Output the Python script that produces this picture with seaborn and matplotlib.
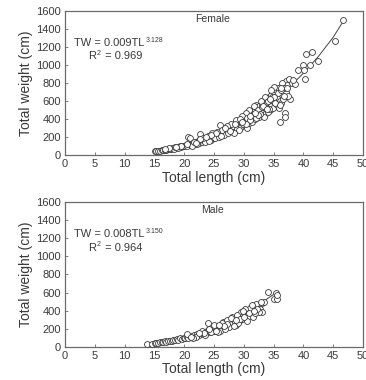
import numpy as np
import pandas as pd
import matplotlib
matplotlib.use("Agg")
import matplotlib.pyplot as plt
import seaborn as sns

# Female: total length (cm) and total weight
female_tl = [15.0, 15.3, 15.6, 15.9, 16.2, 16.5, 16.8, 17.0, 17.3, 17.6, 17.8, 18.0, 18.3, 18.5, 18.8,
             19.0, 19.2, 19.5, 19.7, 20.0, 20.2, 20.4, 20.7, 21.0, 20.9, 21.2, 21.5, 21.8, 22.0, 22.3,
             22.5, 22.6, 22.8, 23.0, 23.2, 23.5, 23.7, 24.0, 24.2, 24.4, 24.6, 24.8, 25.0, 25.2, 25.4,
             25.6, 25.8, 26.0, 26.0, 26.2, 26.4, 26.6, 26.8, 27.0, 27.2, 27.4, 27.6, 27.8, 28.0, 28.2,
             28.4, 28.6, 28.8, 29.0, 29.2, 29.4, 29.6, 29.8, 30.0, 30.2, 30.4, 30.6, 30.8, 31.0, 31.2,
             31.4, 31.6, 31.8, 32.0, 32.0, 32.2, 32.4, 32.6, 32.8, 33.0, 33.2, 33.4, 33.6, 33.8, 34.0,
             34.2, 34.4, 34.6, 34.8, 35.0, 35.2, 35.4, 35.6, 35.8, 36.0, 36.1, 36.3, 36.5, 36.9, 36.9,
             37.0, 37.0, 37.3, 37.6, 37.7, 38.0, 38.6, 39.0, 40.0, 40.1, 40.2, 40.5, 41.1, 41.5, 42.5,
             45.3, 46.7,
             21.3, 22.1, 23.4, 24.1, 25.1, 25.9, 26.7, 27.3, 28.1, 28.9, 29.5, 30.1, 30.7, 31.3, 31.9,
             32.5, 33.1, 33.7, 34.3, 34.9, 35.5, 36.2, 33.5, 32.9, 31.7, 30.9, 30.3, 29.7, 28.7, 27.9,
             27.1, 26.3, 25.5, 24.7, 23.9, 23.1, 22.4, 21.6, 20.5, 19.4, 18.6, 17.5, 16.7, 35.1, 34.5,
             36.4, 36.8, 37.4, 35.9, 36.6, 34.1, 33.3, 30.5, 29.1, 28.3,
             29.3, 29.9, 30.6, 31.1, 31.5, 32.1, 32.3, 32.7, 33.0, 33.6, 33.9, 34.2, 34.7, 35.3, 35.7,
             36.0, 36.3, 36.7, 34.0, 33.2, 32.4, 31.8, 31.0, 30.4, 29.6, 28.5, 27.7, 26.9, 26.1, 25.3,
             24.5, 23.6, 22.7, 21.9, 35.0, 34.4, 33.8, 36.2, 37.2, 38.3]
female_tw = [40, 44, 48, 47, 52, 56, 60, 58, 66, 70, 64, 78, 72, 84, 88,
             80, 95, 92, 100, 96, 110, 104, 203, 185, 120, 115, 130, 125, 140, 150,
             135, 233, 160, 150, 170, 160, 185, 175, 195, 170, 210, 190, 220, 200, 230,
             210, 245, 333, 225, 255, 235, 270, 250, 285, 260, 300, 275, 310, 290, 330,
             300, 345, 320, 360, 330, 380, 345, 400, 365, 420, 380, 440, 395, 460, 410,
             480, 430, 500, 555, 440, 520, 470, 540, 480, 560, 500, 590, 520, 610, 540,
             640, 560, 670, 600, 700, 620, 720, 650, 740, 600, 367, 680, 760, 463, 426,
             826, 700, 780, 848, 626, 800, 792, 941, 997, 944, 844, 1122, 997, 1141, 1040,
             1270, 1500,
             100, 120, 140, 155, 185, 200, 220, 240, 260, 290, 310, 330, 350, 370, 400,
             420, 450, 470, 500, 520, 560, 580, 640, 600, 540, 500, 470, 430, 390, 350,
             320, 280, 260, 240, 215, 190, 170, 145, 125, 105, 92, 75, 65, 760, 720,
             800, 740, 660, 520, 620, 480, 420, 300, 280, 250,
             395, 345, 410, 385, 445, 410, 500, 455, 530, 560, 590, 510, 640, 580, 690,
             560, 720, 660, 600, 540, 450, 470, 430, 350, 370, 340, 270, 300, 215, 245,
             225, 200, 180, 130, 650, 620, 510, 740, 740, 830]

# Female fitted curve (TW = 0.009TL^3.128)
female_curve_tl = [15, 17.5, 20, 22.5, 25, 27.5, 30, 32.5, 35, 37.5, 40, 42.5, 45, 46.8]
female_curve_tw = [43, 64, 101, 150, 210, 285, 372, 478, 600, 745, 910, 1095, 1310, 1500]

# Male
male_tl = [13.8, 14.5, 15.0, 15.3, 15.6, 15.9, 16.2, 16.5, 16.8, 17.0, 17.3, 17.6, 17.9, 18.1, 18.4,
           18.7, 19.0, 19.3, 19.6, 19.9, 20.1, 20.4, 20.7, 21.0, 21.3, 21.6, 21.9, 22.2, 22.5, 22.8,
           23.1, 23.4, 23.7, 24.0, 24.0, 24.3, 24.6, 24.9, 25.2, 25.5, 25.8, 26.1, 26.4, 26.7, 27.0,
           27.3, 27.6, 27.9, 28.2, 28.6, 28.5, 28.8, 29.1, 29.4, 29.7, 30.0, 30.3, 30.6, 30.9, 31.2,
           31.5, 31.8, 32.1, 32.4, 32.7, 33.0, 33.0, 33.3, 34.0, 35.1, 35.4, 35.5, 35.6,
           22.0, 23.0, 24.5, 25.0, 26.0, 26.5, 27.5, 28.0, 29.0, 29.5, 30.5, 31.0, 31.5, 32.0, 32.5,
           26.9, 25.6, 23.5, 21.5, 20.5, 30.2, 28.3, 27.2, 29.8, 31.9,
           25.3, 26.3, 27.1, 27.8, 28.9, 29.3, 29.9, 30.8, 31.4, 32.2, 32.8, 24.2, 23.3, 22.4, 21.1,
           30.1, 28.7, 26.6, 25.9, 31.7]
male_tw = [30, 36, 40, 44, 46, 50, 52, 57, 60, 56, 66, 70, 66, 78, 74,
           86, 82, 94, 88, 104, 96, 112, 104, 122, 112, 132, 122, 145, 130, 158,
           142, 170, 152, 261, 185, 165, 200, 178, 215, 190, 232, 205, 248, 220, 265,
           235, 285, 250, 305, 243, 270, 325, 290, 345, 305, 370, 320, 390, 345, 410,
           365, 440, 400, 460, 420, 383, 480, 500, 610, 526, 600, 526, 574,
           110, 175, 160, 240, 180, 270, 215, 330, 260, 380, 290, 430, 330, 470, 380,
           200, 165, 130, 100, 140, 420, 230, 300, 340, 370,
           180, 260, 250, 320, 350, 310, 400, 370, 460, 420, 500, 195, 150, 150, 105,
           335, 300, 230, 245, 400]

# Male fitted curve (TW = 0.008TL^3.150)
male_curve_tl = [14, 16, 18, 20, 22, 24, 26, 28, 30, 32, 34, 35.8]
male_curve_tw = [33, 50, 72, 100, 135, 178, 228, 290, 360, 440, 535, 615]

panels = [
    ("Female", female_tl, female_tw, female_curve_tl, female_curve_tw, "0.009", "3.128", "0.969"),
    ("Male", male_tl, male_tw, male_curve_tl, male_curve_tw, "0.008", "3.150", "0.964"),
]

sns.set_theme(style="ticks")
plt.rcParams["font.family"] = ["Liberation Sans", "DejaVu Sans"]
txt = "#3a3a3a"
spine = "#6a6a6a"

fig = plt.figure(figsize=(3.66, 3.80), dpi=100)
axes = [fig.add_axes([0.178, 0.592, 0.814, 0.379]),
        fig.add_axes([0.178, 0.087, 0.814, 0.382])]

for ax, (sex, tl, tw, ctl, ctw, a, b, r2) in zip(axes, panels):
    df = pd.DataFrame({"tl": tl, "tw": tw})
    cf = pd.DataFrame({"tl": ctl, "tw": ctw})
    sns.lineplot(data=cf, x="tl", y="tw", ax=ax, color="#444444", linewidth=0.7)
    sns.scatterplot(data=df, x="tl", y="tw", ax=ax, marker="o", s=18,
                    facecolor="white", edgecolor="#3a3a3a", linewidth=0.6, zorder=3)
    ax.set_xlim(0, 50)
    ax.set_ylim(0, 1600)
    ax.set_xticks(range(0, 51, 5))
    ax.set_yticks(range(0, 1601, 200))
    ax.tick_params(direction="in", length=2, width=0.6, colors=spine,
                   labelcolor=txt, labelsize=8, pad=3)
    for s in ax.spines.values():
        s.set_color(spine)
        s.set_linewidth(0.9)
    ax.set_xlabel("Total length (cm)", fontsize=10, color=txt, labelpad=1)
    ax.set_ylabel("Total weight (cm)", fontsize=10, color=txt, labelpad=2)
    ax.text(24.7, 1510, sex, fontsize=7.5, color=txt, ha="center", va="center")
    # equation with small raised exponent
    eq = ax.text(1.5, 1240, f"TW = {a}TL", fontsize=8, color=txt, ha="left", va="center")
    ax.annotate(b, xy=(1.0, 0.82), xycoords=eq, fontsize=5, color=txt,
                ha="left", va="center", xytext=(1, 0), textcoords="offset points")
    r = ax.text(3.9, 1095, "R", fontsize=8, color=txt, ha="left", va="center")
    r2t = ax.annotate("2", xy=(1.0, 0.78), xycoords=r, fontsize=5, color=txt,
                      ha="left", va="center", xytext=(0.5, 0), textcoords="offset points")
    ax.annotate(f" = {r2}", xy=(1.0, 0.5), xycoords=r, fontsize=8, color=txt,
                ha="left", va="center", xytext=(4, 0), textcoords="offset points")

fig.savefig("out.png", dpi=100)
